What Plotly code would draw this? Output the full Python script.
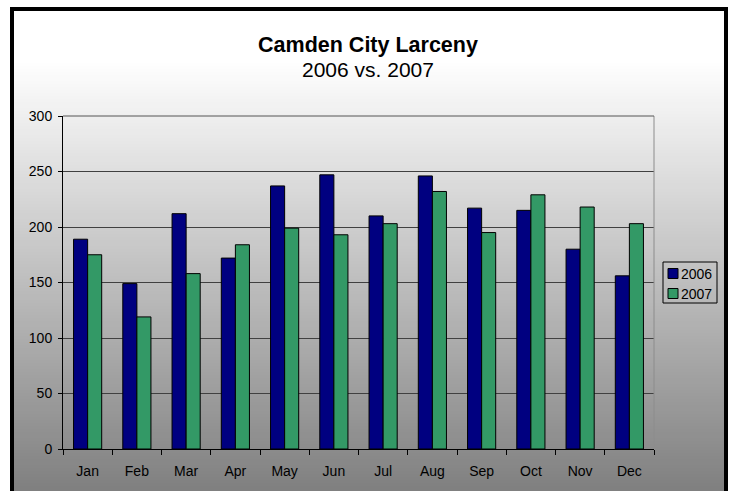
import plotly.graph_objects as go

months = ["Jan", "Feb", "Mar", "Apr", "May", "Jun", "Jul", "Aug", "Sep", "Oct", "Nov", "Dec"]
larceny_2006 = [189, 149, 212, 172, 237, 247, 210, 246, 217, 215, 180, 156]
larceny_2007 = [175, 119, 158, 184, 199, 193, 203, 232, 195, 229, 218, 203]
series_names = ["2006", "2007"]
series_colors = ["#000080", "#339966"]
y_ticks = [0, 50, 100, 150, 200, 250, 300]

W, H = 735, 491
L, R, T, B = 63, 81, 116, 42
PW, PH = W - L - R, H - T - B


def px(x):
    return (x - L) / PW


def py(y):
    return (H - B - y) / PH


FONT = "Arial, Liberation Sans, sans-serif"

fig = go.Figure()
for name, vals, col in zip(series_names, [larceny_2006, larceny_2007], series_colors):
    fig.add_trace(go.Bar(
        x=months, y=vals, name=name,
        marker=dict(color=col, line=dict(color="#000000", width=1)),
        showlegend=False,
    ))

shapes = []
# vertical gradient background (white -> gray)
step = 3
y = 9
while y < H:
    g = int(max(0, min(255, 244 - 0.297 * (y + step / 2 - 100))))
    c = f"rgb({g},{g},{g})"
    shapes.append(dict(type="rect", xref="paper", yref="paper", layer="below",
                       x0=px(12), x1=px(726), y0=py(y + step + 0.5), y1=py(y),
                       fillcolor=c, line=dict(width=0)))
    y += step
# outer black frame
shapes.append(dict(type="rect", xref="paper", yref="paper", layer="below",
                   x0=px(12), x1=px(726), y0=py(520), y1=py(9),
                   fillcolor="rgba(0,0,0,0)", line=dict(color="#000000", width=4)))
# right edge and top edge of plot area
shapes.append(dict(type="line", xref="paper", yref="paper", layer="above",
                   x0=1, x1=1, y0=0, y1=1, line=dict(color="#8c8c8c", width=1)))
shapes.append(dict(type="line", xref="paper", yref="paper", layer="above",
                   x0=0, x1=1, y0=1, y1=1, line=dict(color="#555555", width=1)))
# legend box and swatches
shapes.append(dict(type="rect", xref="paper", yref="paper",
                   x0=px(663), x1=px(717), y0=py(303), y1=py(262),
                   fillcolor="rgba(0,0,0,0)", line=dict(color="#000000", width=1)))
annotations = []
for i, (name, col) in enumerate(zip(series_names, series_colors)):
    cy = 273.5 + 20 * i
    shapes.append(dict(type="rect", xref="paper", yref="paper",
                       x0=px(668), x1=px(678), y0=py(cy + 5), y1=py(cy - 5),
                       fillcolor=col, line=dict(color="#000000", width=1)))
    annotations.append(dict(text=name, xref="paper", yref="paper", x=px(679), y=py(cy),
                            xanchor="left", yanchor="middle", showarrow=False,
                            font=dict(family=FONT, size=14, color="#000000")))

# subtitle line
annotations.append(dict(text="2006 vs. 2007", xref="paper", yref="paper",
                        x=px(368), y=py(69.5), xanchor="center", yanchor="middle",
                        showarrow=False,
                        font=dict(family=FONT, size=21, color="#000000")))

fig.update_layout(
    width=W, height=H,
    margin=dict(l=L, r=R, t=T, b=B, pad=0),
    paper_bgcolor="#ffffff",
    plot_bgcolor="rgba(0,0,0,0)",
    barmode="group", bargap=0.4286, bargroupgap=0,
    title=dict(text="<b>Camden City Larceny</b>",
               x=368 / W, xanchor="center", xref="container",
               y=1 - 44 / H, yanchor="middle", yref="container",
               font=dict(family=FONT, size=21.5, color="#000000")),
    font=dict(family=FONT, size=14, color="#000000"),
    shapes=shapes,
    annotations=annotations,
    xaxis=dict(type="category", tickson="boundaries", ticks="outside", ticklen=5,
               tickcolor="#000000", showline=True, linecolor="#000000", linewidth=1,
               showgrid=False, ticklabelstandoff=9,
               tickfont=dict(family=FONT, size=14, color="#000000")),
    yaxis=dict(range=[0, 300], tickvals=y_ticks, ticks="outside", ticklen=4,
               tickcolor="#000000", showline=True, linecolor="#000000", linewidth=1,
               showgrid=True, gridcolor="#404040", gridwidth=1, zeroline=False,
               ticklabelstandoff=3,
               tickfont=dict(family=FONT, size=14, color="#000000")),
)

fig.write_html("out.html", config={"displayModeBar": False},
               post_script="document.body.style.margin='0px';")
